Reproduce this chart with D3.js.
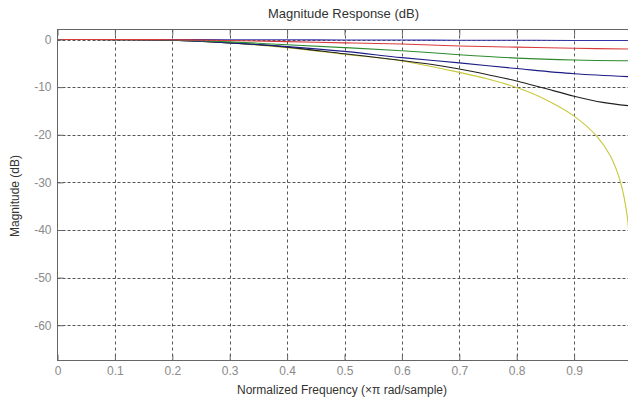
<!DOCTYPE html>
<meta charset="utf-8">
<head>
	<title>Magnitude Response (dB)</title>
	<script type="text/javascript" src="https://cdn.jsdelivr.net/npm/d3@7/dist/d3.min.js"></script>
	<style>
		body { margin: 0; background: #fff; }
		text { font-family: "Liberation Sans", Arial, sans-serif; }
	</style>
</head>
<body>
<div id="chart"></div>
<script>
	// values (normalized frequency, magnitude in dB)
	var xTicks = [0, 0.1, 0.2, 0.3, 0.4, 0.5, 0.6, 0.7, 0.8, 0.9];
	var yTicks = [0, -10, -20, -30, -40, -50, -60];

	var freqA = [0, 0.1, 0.2, 0.3, 0.4, 0.5, 0.6, 0.7, 0.8, 0.9, 0.995];
	var redDb   = [0, 0, -0.05, -0.2, -0.45, -0.7, -0.95, -1.35, -1.6, -1.85, -2.0];
	var blueDb  = [0, 0, 0, -0.05, -0.05, -0.1, -0.1, -0.15, -0.15, -0.2, -0.2];
	var greenDb = [0, 0, -0.1, -0.5, -1.1, -1.7, -2.35, -3.2, -3.9, -4.3, -4.45];
	var navyDb  = [0, -0.02, -0.15, -0.7, -1.5, -2.5, -3.8, -4.9, -6.1, -7.2, -7.8];

	var freqB = [0, 0.1, 0.2, 0.3, 0.4, 0.5, 0.6, 0.65, 0.7, 0.75, 0.8, 0.85, 0.9, 0.95, 0.995];
	var blackDb = [0, -0.02, -0.15, -0.7, -1.6, -3.0, -4.4, -5.2, -6.2, -7.4, -8.7, -10.3, -11.9, -13.2, -13.9];

	var freqC = [0, 0.1, 0.2, 0.3, 0.4, 0.5, 0.6, 0.7, 0.75, 0.8, 0.85, 0.9, 0.94, 0.963, 0.98, 0.993, 0.999];
	var yellowDb = [0, -0.02, -0.15, -0.75, -1.7, -3.1, -4.5, -6.9, -8.3, -10.1, -12.6, -16.1, -20.4, -24.4, -29.6, -37.5, -48];

	var series = [
		{ name: "yellow", color: "#c8c83c", x: freqC, y: yellowDb },
		{ name: "black",  color: "#202020", x: freqB, y: blackDb },
		{ name: "navy",   color: "#1c1c86", x: freqA, y: navyDb },
		{ name: "green",  color: "#2e8a2e", x: freqA, y: greenDb },
		{ name: "blue",   color: "#3434a8", x: freqA, y: blueDb },
		{ name: "red",    color: "#d83a3a", x: freqA, y: redDb }
	];

	var W = 628, H = 401;
	var m = { left: 57.5, top: 29.5, right: 631.5, bottom: 360.5 };

	var x = d3.scaleLinear().domain([0, 1]).range([m.left, m.right]);
	var y = d3.scaleLinear().domain([-67.4, 2.1]).range([m.bottom, m.top]);

	var svg = d3.select("#chart").append("svg")
		.attr("width", W)
		.attr("height", H);

	svg.append("defs").append("clipPath").attr("id", "plotclip")
		.append("rect")
		.attr("x", m.left).attr("y", m.top)
		.attr("width", m.right - m.left).attr("height", m.bottom - m.top);

	// grid
	var grid = svg.append("g").attr("class", "grid");
	grid.selectAll("line.gx").data(xTicks.slice(1)).enter().append("line")
		.attr("x1", function(d) { return Math.round(x(d)) + 0.5; })
		.attr("x2", function(d) { return Math.round(x(d)) + 0.5; })
		.attr("y1", m.top).attr("y2", m.bottom)
		.attr("stroke", "#555").attr("stroke-dasharray", "3,3");
	grid.selectAll("line.gy").data(yTicks).enter().append("line")
		.attr("y1", function(d) { return Math.round(y(d)) + 0.5; })
		.attr("y2", function(d) { return Math.round(y(d)) + 0.5; })
		.attr("x1", m.left).attr("x2", m.right)
		.attr("stroke", "#555").attr("stroke-dasharray", "3,2");

	// curves
	var line = d3.line()
		.x(function(d) { return x(d[0]); })
		.y(function(d) { return y(d[1]); })
		.curve(d3.curveCatmullRom.alpha(0.5));

	svg.append("g").attr("clip-path", "url(#plotclip)")
		.selectAll("path").data(series).enter().append("path")
		.attr("fill", "none")
		.attr("stroke", function(d) { return d.color; })
		.attr("stroke-width", 1.1)
		.attr("d", function(d) { return line(d.x.map(function(v, i) { return [v, d.y[i]]; })); });

	// axes
	var xAxis = svg.append("g")
		.attr("transform", "translate(0," + m.bottom + ")")
		.call(d3.axisBottom(x).tickValues(xTicks).tickSize(-6).tickPadding(6)
			.tickFormat(function(d) { return d === 0 ? "0" : d3.format(".1f")(d); }));
	var xTop = svg.append("g")
		.attr("transform", "translate(0," + m.top + ")")
		.call(d3.axisTop(x).tickValues(xTicks).tickSize(-6).tickFormat(""));
	var yAxis = svg.append("g")
		.attr("transform", "translate(" + m.left + ",0)")
		.call(d3.axisLeft(y).tickValues(yTicks).tickSize(-6).tickPadding(6)
			.tickFormat(function(d) { return String(d); }));

	[xAxis, xTop, yAxis].forEach(function(a) {
		a.select(".domain").remove();
		a.selectAll(".tick line").attr("stroke", "#666");
		a.selectAll("text").attr("fill", "#8a8a8a").style("font-size", "12px")
			.style("font-family", "'Liberation Sans', Arial, sans-serif");
	});

	// box
	svg.append("rect")
		.attr("x", m.left).attr("y", m.top)
		.attr("width", m.right - m.left).attr("height", m.bottom - m.top)
		.attr("fill", "none").attr("stroke", "#666");

	// labels
	svg.append("text")
		.attr("x", 343.5).attr("y", 18)
		.attr("text-anchor", "middle")
		.attr("fill", "#333").style("font-size", "13px")
		.text("Magnitude Response (dB)");

	svg.append("text")
		.attr("x", 342).attr("y", 394)
		.attr("text-anchor", "middle")
		.attr("fill", "#333").style("font-size", "12px")
		.text("Normalized Frequency (\u00d7\u03c0 rad/sample)");

	svg.append("text")
		.attr("transform", "translate(19,196) rotate(-90)")
		.attr("text-anchor", "middle")
		.attr("fill", "#333").style("font-size", "12px")
		.text("Magnitude (dB)");
</script>
</body>
